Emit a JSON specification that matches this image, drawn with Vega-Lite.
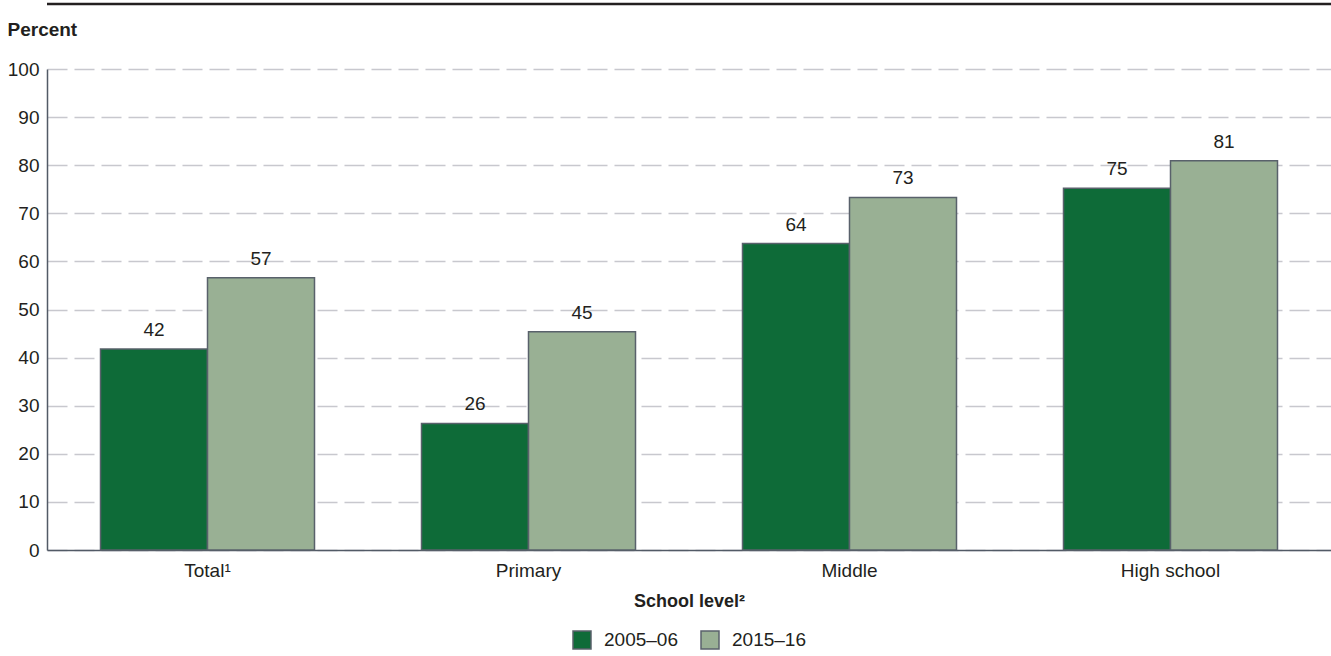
{
  "$schema": "https://vega.github.io/schema/vega-lite/v6.json",
  "width": 1284,
  "height": 481,
  "autosize": {"type": "none"},
  "padding": {"left": 47, "top": 69, "right": 0, "bottom": 106},
  "background": "white",
  "config": {"view": {"stroke": null}, "font": "Liberation Sans"},
  "data": {"values": [
    {"level": "Total¹", "year": "2005–06", "pct": 41.8},
    {"level": "Total¹", "year": "2015–16", "pct": 56.6},
    {"level": "Primary", "year": "2005–06", "pct": 26.3},
    {"level": "Primary", "year": "2015–16", "pct": 45.4},
    {"level": "Middle", "year": "2005–06", "pct": 63.7},
    {"level": "Middle", "year": "2015–16", "pct": 73.3},
    {"level": "High school", "year": "2005–06", "pct": 75.2},
    {"level": "High school", "year": "2015–16", "pct": 80.9}
  ]},
  "layer": [
    {
      "mark": {"type": "bar", "stroke": "#59616b", "strokeWidth": 1.5},
      "encoding": {
        "x": {"field": "level", "type": "nominal", "sort": ["Total¹", "Primary", "Middle", "High school"],
          "scale": {"paddingInner": 0, "paddingOuter": 0},
          "title": "School level²",
          "axis": {"labelAngle": 0, "labelFontSize": 19, "labelColor": "#231f20", "domainColor": "#525a66", "domainWidth": 1.5, "ticks": false, "labelPadding": 11, "titleFontSize": 18, "titleFontWeight": "bold", "titleColor": "#231f20", "titlePadding": 12}},
        "xOffset": {"field": "year", "type": "nominal", "sort": ["2005–06", "2015–16"], "scale": {"paddingInner": 0, "paddingOuter": 0.5}},
        "y": {"field": "pct", "type": "quantitative", "scale": {"domain": [0, 100], "nice": false},
          "title": "Percent",
          "axis": {"values": [0, 10, 20, 30, 40, 50, 60, 70, 80, 90, 100], "grid": true, "gridDash": [20, 7], "gridColor": "#c8c8ce", "gridWidth": 1.5, "domainColor": "#525a66", "domainWidth": 1.5, "ticks": false, "labelPadding": 8, "labelFontSize": 19, "labelColor": "#231f20", "titleAngle": 0, "titleAlign": "left", "titleBaseline": "alphabetic", "titleX": -40, "titleY": -34, "titleFontSize": 19, "titleFontWeight": "bold", "titleColor": "#231f20"}},
        "color": {"field": "year", "type": "nominal", "sort": ["2005–06", "2015–16"],
          "scale": {"domain": ["2005–06", "2015–16"], "range": ["#0e6b38", "#99b094"]},
          "legend": {"orient": "none", "legendX": 525, "legendY": 561, "direction": "horizontal", "title": null, "symbolType": "square", "symbolSize": 324, "symbolStrokeColor": "#59616b", "symbolStrokeWidth": 1.5, "labelFontSize": 19, "labelColor": "#231f20", "labelOffset": 12, "columnPadding": 20}}
      }
    },
    {
      "mark": {"type": "text", "fontSize": 19, "dy": -13, "baseline": "alphabetic", "align": "center", "color": "#231f20"},
      "encoding": {
        "x": {"field": "level", "type": "nominal", "sort": ["Total¹", "Primary", "Middle", "High school"]},
        "xOffset": {"field": "year", "type": "nominal", "sort": ["2005–06", "2015–16"]},
        "y": {"field": "pct", "type": "quantitative", "title": "Percent"},
        "text": {"field": "pct", "type": "quantitative", "format": ".0f"}
      }
    },
    {
      "data": {"values": [{}]},
      "mark": {"type": "rule", "clip": false, "color": "#231f20", "strokeWidth": 2.5},
      "encoding": {
        "y": {"datum": 113.5, "type": "quantitative", "title": "Percent"}
      }
    }
  ]
}
